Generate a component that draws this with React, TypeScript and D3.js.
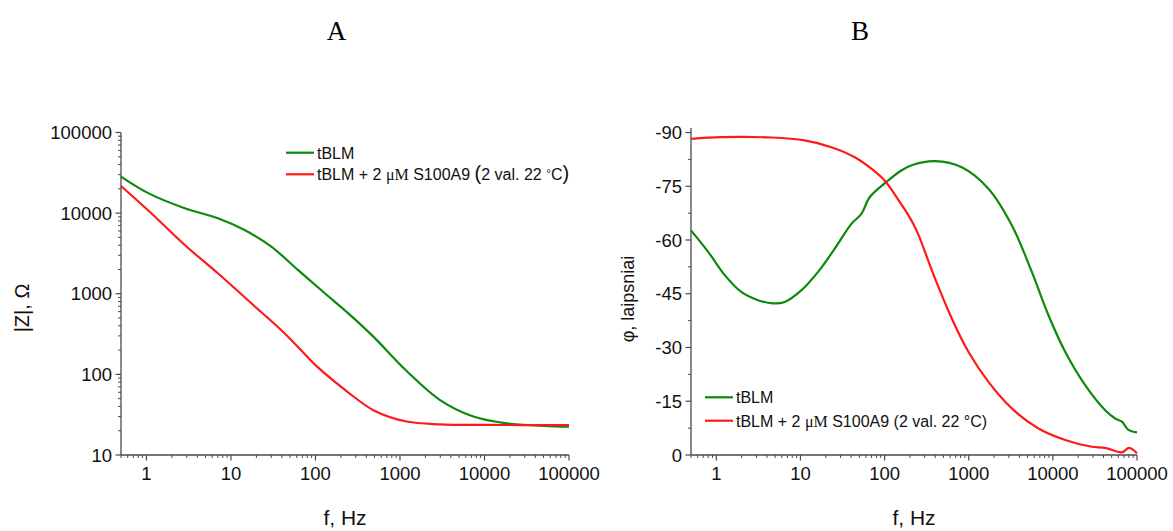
import React from "react";
import * as d3 from "d3";

// |Z| spectra (Bode modulus), frequency in Hz, impedance in Ohm
const fZGreen = [0.5, 1.05, 2.84, 7.0, 14.5, 30, 62, 129, 243, 484, 1200, 2980, 7380, 18300, 50000, 100000];
const zGreen = [28400, 17700, 11500, 8650, 6170, 3840, 1975, 1015, 575, 294, 110, 48, 30, 24.7, 23, 22.4];
const fZRed = [0.5, 1.14, 2.84, 7.0, 17.4, 43, 107, 195, 243, 484, 1200, 2980, 10000, 100000];
const zRed = [21700, 9980, 4030, 1795, 762, 324, 122, 72, 60, 36, 26, 24, 23.6, 23.5];

// Phase spectra, degrees
const fPGreen = [0.5, 0.8, 1.26, 1.98, 3.13, 4.72, 6.5, 10.3, 16.2, 25.6, 40.3, 53, 66.7, 105, 158, 218, 398, 827, 1715, 3250, 5620, 8870, 14000, 24200, 41900, 55100, 66100, 79200, 100000];
const pGreen = [-62.7, -56.7, -50.2, -45.5, -43.2, -42.3, -42.7, -46, -51.1, -57.6, -64.5, -67.3, -72, -76.2, -79.4, -81, -82, -80.3, -74.3, -64.1, -51.1, -39, -28.8, -19.5, -12.5, -10.2, -9.3, -7.0, -6.3];
const fPRed = [0.5, 1.15, 4.5, 11.2, 23.3, 44.2, 69.6, 100, 145, 175, 218, 252, 398, 629, 991, 1715, 3250, 6740, 14000, 29100, 41900, 66100, 80700, 100000];
const pRed = [-88.2, -88.7, -88.6, -87.8, -85.9, -83.1, -79.9, -76.6, -71.3, -68.4, -64.6, -61.5, -49.2, -38.1, -28.8, -20.4, -13, -7.4, -4.2, -2.3, -2.0, -0.75, -2.0, -0.5];

const freqTicks = [1, 10, 100, 1000, 10000, 100000];
const zTicks = [10, 100, 1000, 10000, 100000];
const phaseTicks = [0, -15, -30, -45, -60, -75, -90];

const seriesNames = ["tBLM", "tBLM + 2 μM S100A9 (2 val. 22 °C)"];
const GREEN = "#0b8a0b";
const RED = "#ff1a1a";
const AXIS = "#4a4a4a";
const SANS = "'Liberation Sans', Arial, sans-serif";
const SERIF = "'Liberation Serif', 'Times New Roman', serif";

const minorLog = (lo: number, hi: number) => {
  const out: number[] = [];
  for (let e = Math.floor(Math.log10(lo)); e < Math.ceil(Math.log10(hi)); e++) {
    for (let m = 2; m <= 9; m++) {
      const v = m * Math.pow(10, e);
      if (v >= lo && v <= hi) out.push(v);
    }
  }
  return out;
};

function FreqAxis({ x, y0 }: { x: d3.ScaleLogarithmic<number, number>; y0: number }) {
  const [lo, hi] = x.domain();
  return (
    <g>
      <line x1={x(lo)} x2={x(hi)} y1={y0} y2={y0} stroke={AXIS} strokeWidth={1.3} />
      {minorLog(lo, hi).map((v) => (
        <line key={"m" + v} x1={x(v)} x2={x(v)} y1={y0} y2={y0 + 3} stroke={AXIS} strokeWidth={1} />
      ))}
      {freqTicks.map((v) => (
        <g key={v}>
          <line x1={x(v)} x2={x(v)} y1={y0} y2={y0 + 5.5} stroke={AXIS} strokeWidth={1.2} />
          <text x={x(v)} y={y0 + 25} textAnchor="middle" fontSize={18.5} fontFamily={SANS} fill="#111">
            {String(v)}
          </text>
        </g>
      ))}
    </g>
  );
}

export default function App() {
  // panel A scales
  const xA = d3.scaleLog().domain([0.5, 100000]).range([121, 569]);
  const yA = d3.scaleLog().domain([10, 100000]).range([455, 132.5]);
  // panel B scales
  const xB = d3.scaleLog().domain([0.5, 100000]).range([691, 1137]);
  const yB = d3.scaleLinear().domain([0, -90]).range([455, 132.5]);

  const smooth = d3.curveCatmullRom.alpha(0.5);
  const lineA = (fs: number[], vs: number[]) =>
    d3
      .line<number>()
      .x((_, i) => xA(fs[i]))
      .y((v) => yA(v))
      .curve(smooth)(vs) || "";
  const lineB = (fs: number[], vs: number[]) =>
    d3
      .line<number>()
      .x((_, i) => xB(fs[i]))
      .y((v) => yB(v))
      .curve(smooth)(vs) || "";

  const phaseMinor: number[] = [];
  for (let v = -7.5; v > -90; v -= 15) phaseMinor.push(v);

  const legendText = (x: number, y: number, bigParen: boolean) => (
    <text x={x} y={y} fontSize={16} fontFamily={SANS} fill="#111">
      <tspan>tBLM + 2 </tspan>
      <tspan fontFamily={SERIF}>μM</tspan>
      <tspan> S100A9 </tspan>
      <tspan fontSize={bigParen ? 20 : 16}>(</tspan>
      <tspan>2 val. 22 </tspan>
      <tspan fontSize={bigParen ? 12 : 16} dy={bigParen ? -2 : 0}>°</tspan>
      <tspan dy={bigParen ? 2 : 0}>C</tspan>
      <tspan fontSize={bigParen ? 20 : 16}>)</tspan>
    </text>
  );

  return (
    <svg
      width={1173}
      height={531}
      style={{ position: "absolute", left: 0, top: 0, background: "#fff" }}
    >
      {/* panel titles */}
      <text x={336.5} y={40} textAnchor="middle" fontSize={27} fontFamily={SERIF} fill="#000">A</text>
      <text x={860} y={40} textAnchor="middle" fontSize={27} fontFamily={SERIF} fill="#000">B</text>

      {/* ---------- Panel A: |Z| ---------- */}
      <g>
        <line x1={121} x2={121} y1={132.5} y2={455} stroke={AXIS} strokeWidth={1.3} />
        {minorLog(10, 100000).map((v) => (
          <line key={"ym" + v} x1={121} x2={118} y1={yA(v)} y2={yA(v)} stroke={AXIS} strokeWidth={1} />
        ))}
        {zTicks.map((v) => (
          <g key={v}>
            <line x1={121} x2={115.5} y1={yA(v)} y2={yA(v)} stroke={AXIS} strokeWidth={1.2} />
            <text x={112} y={yA(v) + 6.6} textAnchor="end" fontSize={18.5} fontFamily={SANS} fill="#111">
              {String(v)}
            </text>
          </g>
        ))}
        <FreqAxis x={xA} y0={455} />
        <path d={lineA(fZGreen, zGreen)} fill="none" stroke={GREEN} strokeWidth={2.2} />
        <path d={lineA(fZRed, zRed)} fill="none" stroke={RED} strokeWidth={2.2} />

        <text transform="translate(29,308) rotate(-90)" textAnchor="middle" fontSize={20} fontFamily={SANS} fill="#111">
          |Z|, Ω
        </text>
        <text x={345} y={525} textAnchor="middle" fontSize={21} fontFamily={SANS} fill="#111">f, Hz</text>

        {/* legend */}
        <line x1={286} x2={314} y1={152.7} y2={152.7} stroke={GREEN} strokeWidth={2.2} />
        <text x={317} y={158.6} fontSize={16} fontFamily={SANS} fill="#111">{seriesNames[0]}</text>
        <line x1={286} x2={314} y1={174.3} y2={174.3} stroke={RED} strokeWidth={2.2} />
        {legendText(317, 180.2, true)}
      </g>

      {/* ---------- Panel B: phase ---------- */}
      <g>
        <line x1={691} x2={691} y1={128} y2={455} stroke={AXIS} strokeWidth={1.3} />
        {phaseMinor.map((v) => (
          <line key={"pm" + v} x1={691} x2={688} y1={yB(v)} y2={yB(v)} stroke={AXIS} strokeWidth={1} />
        ))}
        {phaseTicks.map((v) => (
          <g key={v}>
            <line x1={691} x2={685.5} y1={yB(v)} y2={yB(v)} stroke={AXIS} strokeWidth={1.2} />
            <text x={682} y={yB(v) + 6.6} textAnchor="end" fontSize={18.5} fontFamily={SANS} fill="#111">
              {String(v)}
            </text>
          </g>
        ))}
        <FreqAxis x={xB} y0={455} />
        <path d={lineB(fPGreen, pGreen)} fill="none" stroke={GREEN} strokeWidth={2.2} />
        <path d={lineB(fPRed, pRed)} fill="none" stroke={RED} strokeWidth={2.2} />

        <text transform="translate(634,299) rotate(-90)" textAnchor="middle" fontSize={18} fontFamily={SANS} fill="#111">
          φ, laipsniai
        </text>
        <text x={914} y={525} textAnchor="middle" fontSize={21} fontFamily={SANS} fill="#111">f, Hz</text>

        {/* legend */}
        <line x1={705} x2={733} y1={397.3} y2={397.3} stroke={GREEN} strokeWidth={2.2} />
        <text x={736} y={403.2} fontSize={16} fontFamily={SANS} fill="#111">{seriesNames[0]}</text>
        <line x1={705} x2={733} y1={420.7} y2={420.7} stroke={RED} strokeWidth={2.2} />
        {legendText(736, 426.6, false)}
      </g>
    </svg>
  );
}
